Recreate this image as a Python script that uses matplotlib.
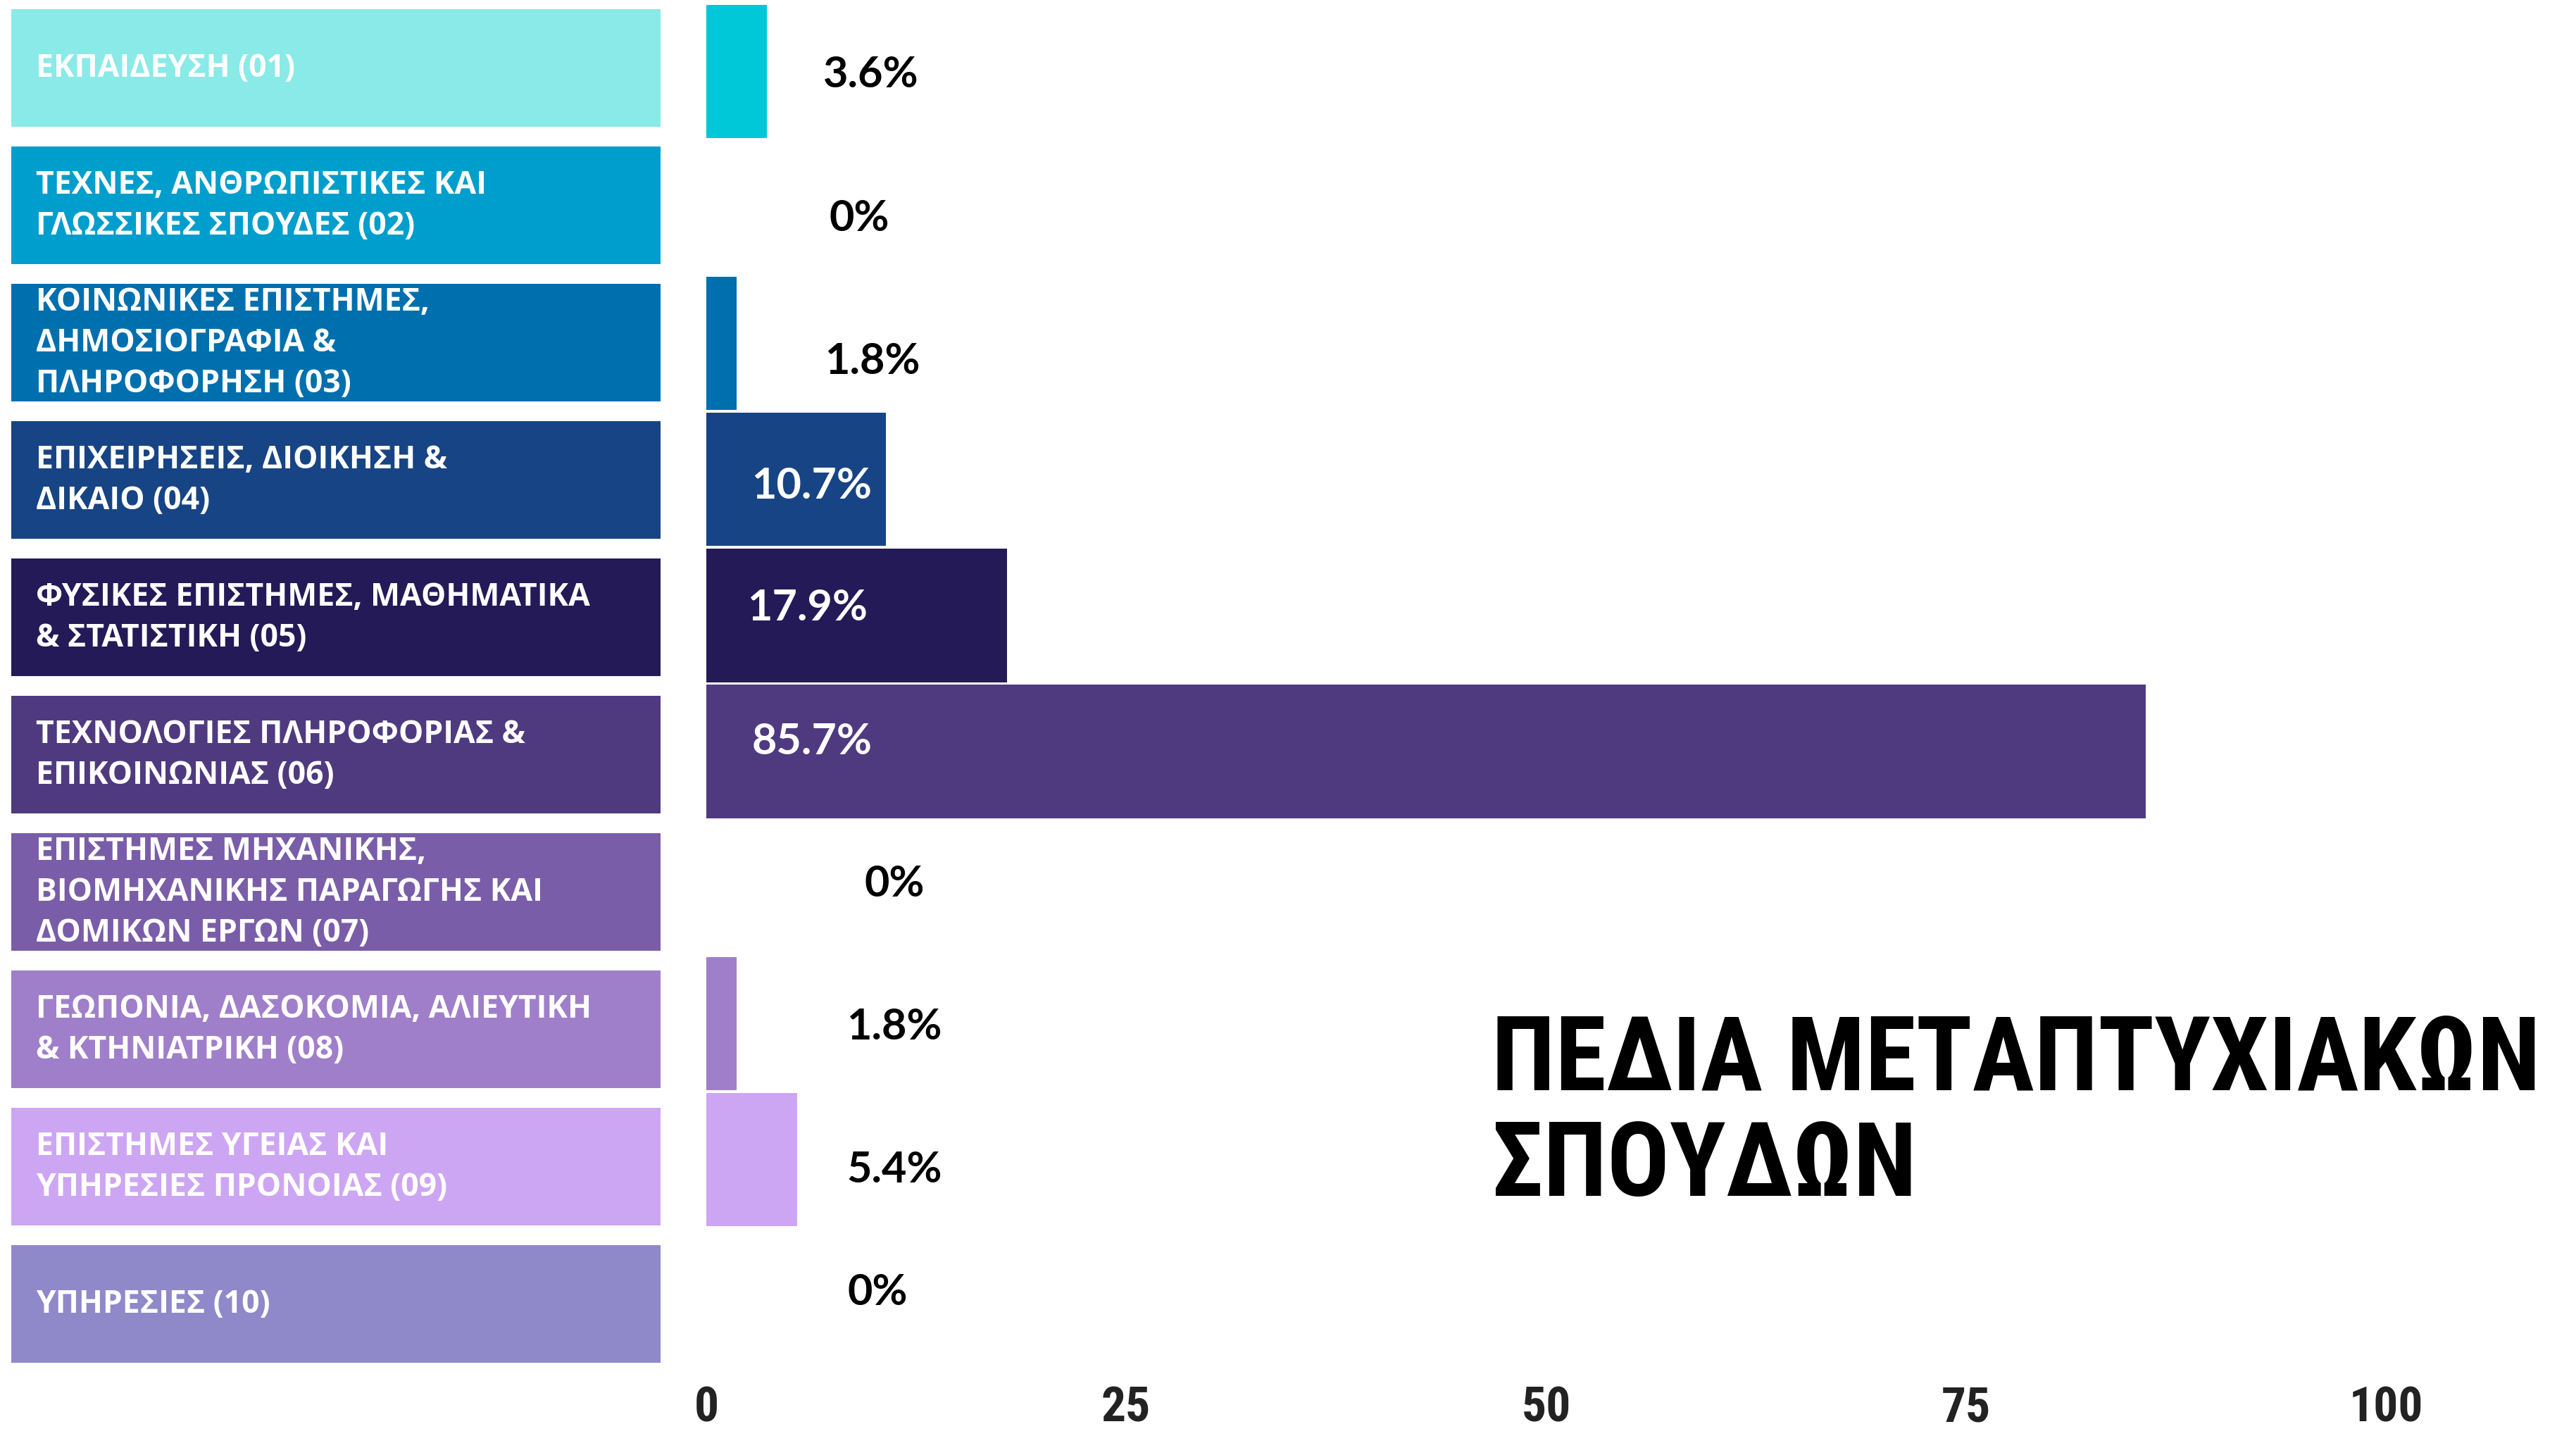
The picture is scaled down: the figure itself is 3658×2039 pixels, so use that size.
import numpy as np
import matplotlib.pyplot as plt

# DATA #
fields = [
    "ΕΚΠΑΙΔΕΥΣΗ (01)",
    "ΤΕΧΝΕΣ, ΑΝΘΡΩΠΙΣΤΙΚΕΣ ΚΑΙ\nΓΛΩΣΣΙΚΕΣ ΣΠΟΥΔΕΣ (02)",
    "ΚΟΙΝΩΝΙΚΕΣ ΕΠΙΣΤΗΜΕΣ,\nΔΗΜΟΣΙΟΓΡΑΦΙΑ &\nΠΛΗΡΟΦΟΡΗΣΗ (03)",
    "ΕΠΙΧΕΙΡΗΣΕΙΣ, ΔΙΟΙΚΗΣΗ &\nΔΙΚΑΙΟ (04)",
    "ΦΥΣΙΚΕΣ ΕΠΙΣΤΗΜΕΣ, ΜΑΘΗΜΑΤΙΚΑ\n& ΣΤΑΤΙΣΤΙΚΗ (05)",
    "ΤΕΧΝΟΛΟΓΙΕΣ ΠΛΗΡΟΦΟΡΙΑΣ &\nΕΠΙΚΟΙΝΩΝΙΑΣ (06)",
    "ΕΠΙΣΤΗΜΕΣ ΜΗΧΑΝΙΚΗΣ,\nΒΙΟΜΗΧΑΝΙΚΗΣ ΠΑΡΑΓΩΓΗΣ ΚΑΙ\nΔΟΜΙΚΩΝ ΕΡΓΩΝ (07)",
    "ΓΕΩΠΟΝΙΑ, ΔΑΣΟΚΟΜΙΑ, ΑΛΙΕΥΤΙΚΗ\n& ΚΤΗΝΙΑΤΡΙΚΗ (08)",
    "ΕΠΙΣΤΗΜΕΣ ΥΓΕΙΑΣ ΚΑΙ\nΥΠΗΡΕΣΙΕΣ ΠΡΟΝΟΙΑΣ (09)",
    "ΥΠΗΡΕΣΙΕΣ (10)",
]
percent = [3.6, 0, 1.8, 10.7, 17.9, 85.7, 0, 1.8, 5.4, 0]
value_labels = ["3.6%", "0%", "1.8%", "10.7%", "17.9%", "85.7%", "0%", "1.8%", "5.4%", "0%"]
ticks = [0, 25, 50, 75, 100]
title = "ΠΕΔΙΑ ΜΕΤΑΠΤΥΧΙΑΚΩΝ\nΣΠΟΥΔΩΝ"

# COLOURS #
box_colors = ["#8AEAE8", "#009ECC", "#006FAE", "#174484", "#241A58",
              "#4F3A80", "#7A5DA8", "#A07FCA", "#CDA6F3", "#8F89CA"]
bar_colors = ["#00C8D8", "#009ECC", "#006FAE", "#174484", "#241A58",
              "#4F3A80", "#7A5DA8", "#A07FCA", "#CDA6F3", "#8F89CA"]

# label placement (data units)
label_x = [9.8, 9.1, 9.9, 2.7, 2.45, 2.7, 11.2, 11.2, 11.2, 10.2]
label_dy = [0.02, 0.075, 0.125, 0.04, -0.06, -0.08, -0.03, 0.02, 0.07, -0.03]

narrow = ["Roboto Condensed", "Open Sans Condensed", "Roboto", "DejaVu Sans"]

W, H = 3658, 2040
fig = plt.figure(figsize=(W / 200, H / 200), dpi=200)

rows = np.arange(len(fields))

# LEFT LABEL BOXES
ax_lab = fig.add_axes([16 / W, 1 - 1950 / H, 922 / W, 1950 / H])
ax_lab.barh(rows, [1] * len(rows), height=0.86, color=box_colors)
ax_lab.set_xlim(0, 1)
ax_lab.set_ylim(9.5, -0.5)
ax_lab.axis("off")
for i, txt in enumerate(fields):
    ax_lab.text(0.038, i, txt, color="white", fontsize=16, fontweight="bold",
                family=["Open Sans", "DejaVu Sans"], ha="left", va="center",
                linespacing=1.37)

# BARS
ax = fig.add_axes([1003 / W, 1 - 1937 / H, (3388 - 1003) / W, (1937 - 6) / H])
ax.barh(rows, percent, height=0.98, color=bar_colors)
ax.set_xlim(0, 100)
ax.set_ylim(9.5, -0.5)
for s in ax.spines.values():
    s.set_visible(False)
ax.set_yticks([])
ax.set_xticks(ticks)
ax.set_xticklabels([str(t) for t in ticks], fontsize=25, fontweight="bold",
                   color="#222222", family=narrow)
ax.tick_params(axis="x", length=0, pad=11)

for i, lab in enumerate(value_labels):
    inside = percent[i] > 10
    ax.text(label_x[i], i + label_dy[i], lab, fontsize=22, fontweight="bold",
            family=["Lato", "DejaVu Sans"],
            color="white" if inside else "black",
            ha="left" if inside else "center", va="center")

# TITLE
fig.text(2118 / W, 1 - 1438 / H, title, fontsize=53, fontweight="black",
         fontstretch="condensed", family=narrow,
         ha="left", va="top", linespacing=1.09, color="black")

fig.savefig("out.png", dpi=200, facecolor="white")
